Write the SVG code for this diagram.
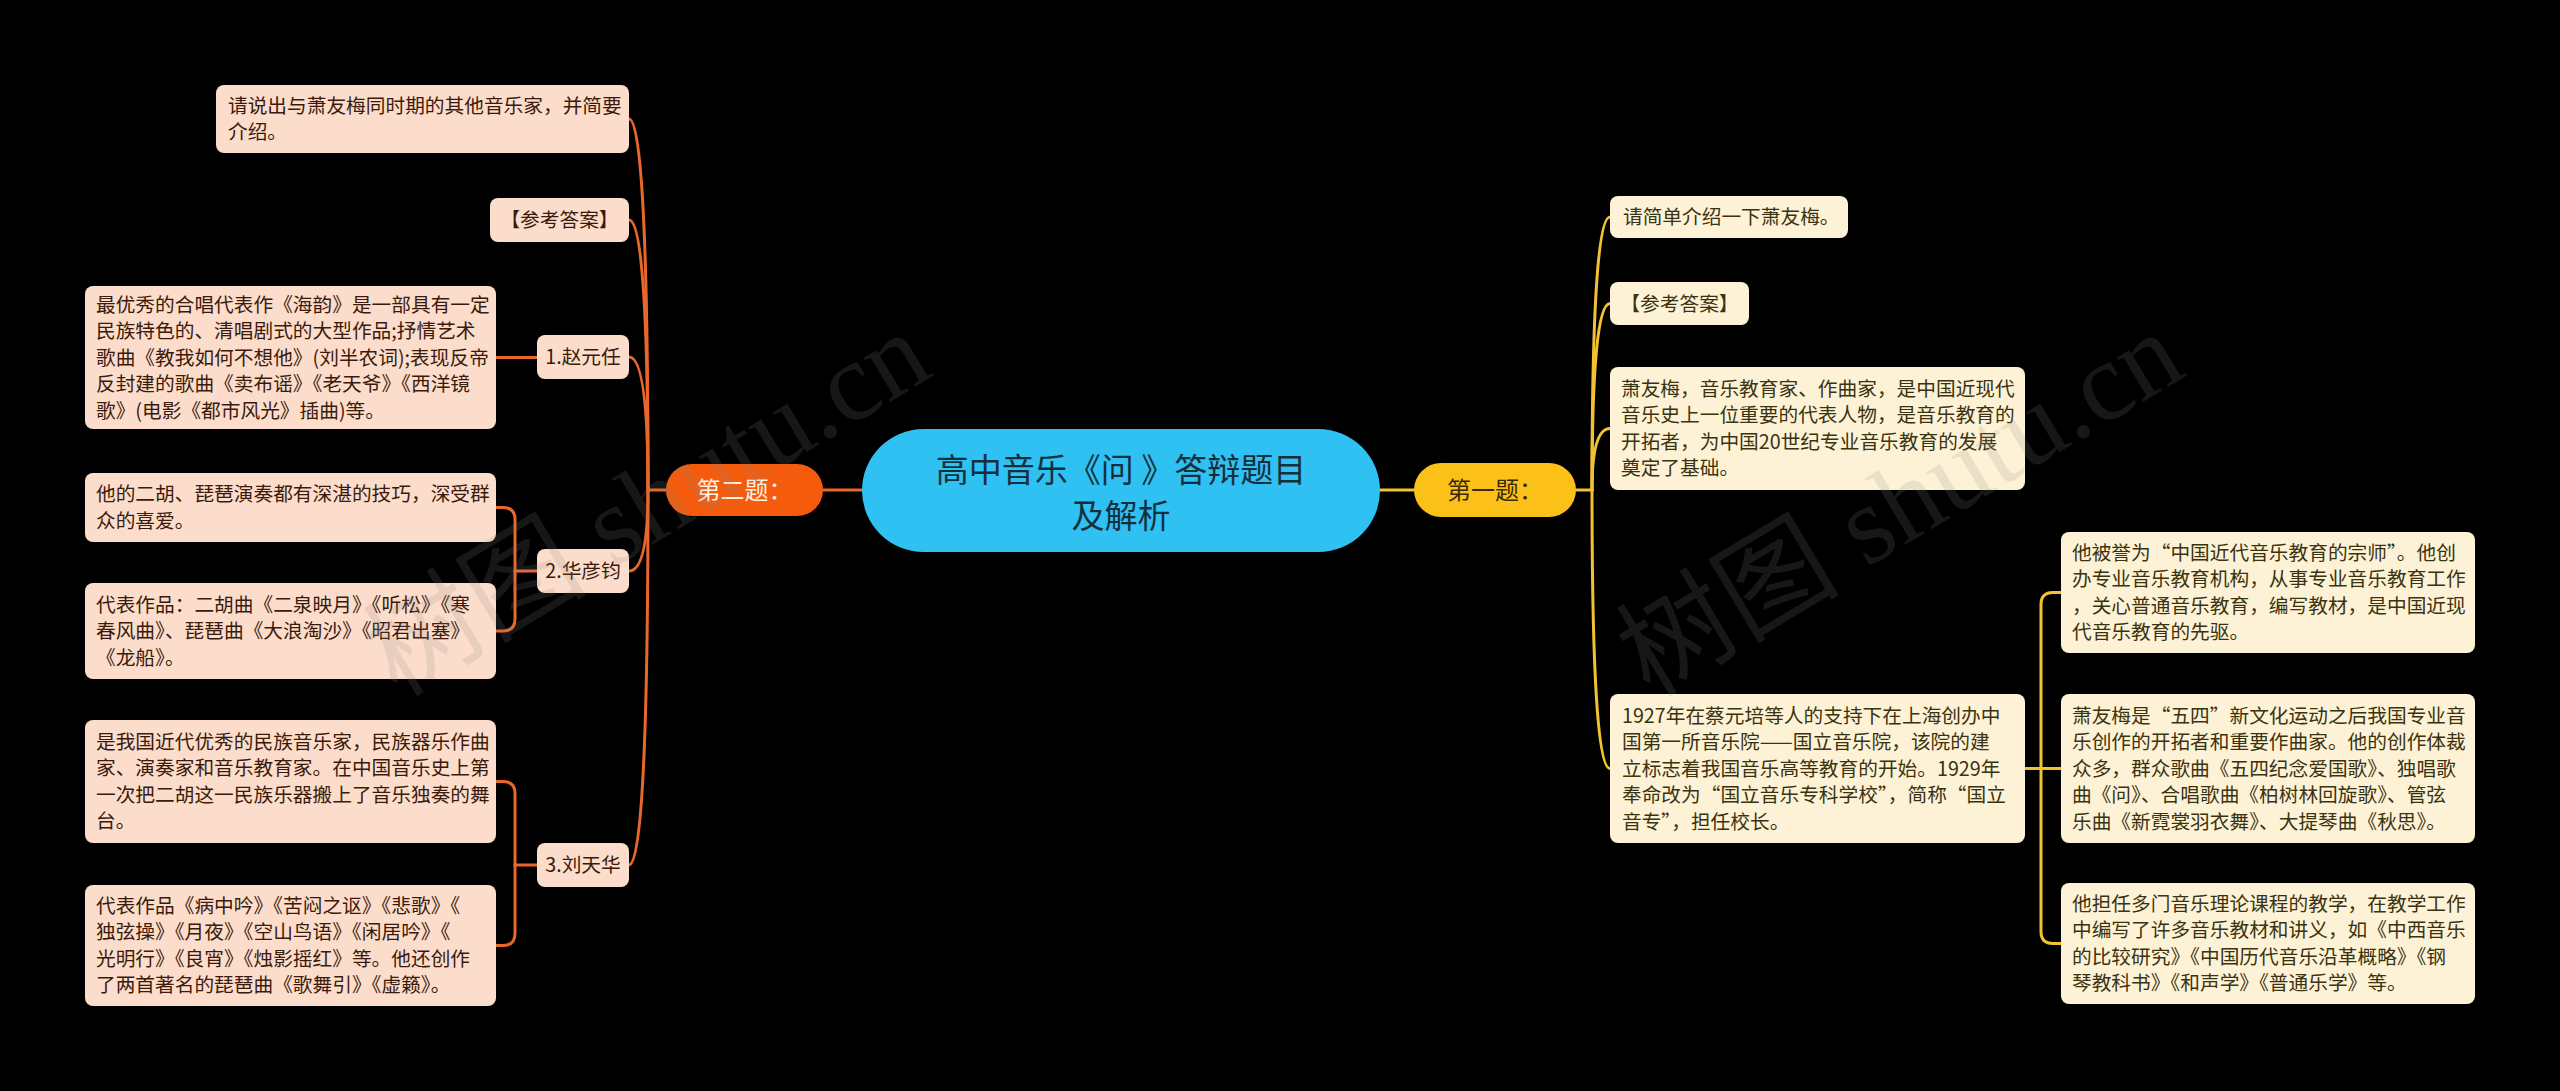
<svg xmlns="http://www.w3.org/2000/svg" width="2560" height="1091" viewBox="0 0 2560 1091">
<style>
text{font-family:"Noto Sans CJK SC","Noto Sans",sans-serif;}
.bg{fill:#000000;}
.lbox{fill:#FCDDCB;}
.rbox{fill:#FEF2D6;}
.lt{fill:#3B1A0C;font-size:19.7px;}
.rt{fill:#3A3310;font-size:19.7px;}
.lline{fill:none;stroke:#E8672B;stroke-width:3;stroke-linecap:round;}
.rline{fill:none;stroke:#F2C232;stroke-width:3;stroke-linecap:round;}
.wm{font-family:"Liberation Serif","Noto Sans CJK SC",serif;font-size:112px;fill:#8a8a8a;fill-opacity:0.17;}
</style>
<rect class="bg" x="0" y="0" width="2560" height="1091"/>

<g id="connectors">
  <path class="lline" d="M862 490 H823"/>
  <path class="rline" d="M1380 490 H1414"/>
  <path class="lline" d="M666 490 H648"/>
  <path class="lline" d="M648 490 Q648 119 629 119"/>
  <path class="lline" d="M648 490 Q648 220 629 220"/>
  <path class="lline" d="M648 490 Q648 357 629 357"/>
  <path class="lline" d="M648 490 Q648 571 629 571"/>
  <path class="lline" d="M648 490 Q648 865 629 865"/>
  <path class="lline" d="M537 357.5 H496"/>
  <path class="lline" d="M537 571 H515"/>
  <path class="lline" d="M515 571 V519.5 Q515 507.5 503 507.5 H496"/>
  <path class="lline" d="M515 571 V619 Q515 631 503 631 H496"/>
  <path class="lline" d="M537 865 H515"/>
  <path class="lline" d="M515 865 V793.5 Q515 781.5 503 781.5 H496"/>
  <path class="lline" d="M515 865 V933.5 Q515 945.5 503 945.5 H496"/>
  <path class="rline" d="M1576 490 H1592"/>
  <path class="rline" d="M1592 490 Q1592 217 1610 217"/>
  <path class="rline" d="M1592 490 Q1592 303.5 1610 303.5"/>
  <path class="rline" d="M1592 490 Q1592 428.5 1610 428.5"/>
  <path class="rline" d="M1592 490 Q1592 768.5 1610 768.5"/>
  <path class="rline" d="M2025 768.5 H2061"/>
  <path class="rline" d="M2041 768.5 V604.5 Q2041 592.5 2053 592.5 H2061"/>
  <path class="rline" d="M2041 768.5 V931.5 Q2041 943.5 2053 943.5 H2061"/>
</g>

<g id="center">
  <rect x="862" y="429" width="518" height="123" rx="61.5" fill="#2FC1F1"/>
  <text x="1121" y="482" font-size="33" fill="#15303D" text-anchor="middle">高中音乐《问 》答辩题目</text>
  <text x="1121" y="528" font-size="33" fill="#15303D" text-anchor="middle">及解析</text>
</g>

<g id="q2">
  <rect x="666" y="464" width="157" height="52" rx="26" fill="#F45B0C"/>
  <text x="744.5" y="498.5" font-size="24" fill="#FFF1E4" text-anchor="middle">第二题：</text>
</g>

<g id="q1">
  <rect x="1414" y="463" width="162" height="54" rx="27" fill="#FCC118"/>
  <text x="1495" y="498.5" font-size="24" fill="#3A2A05" text-anchor="middle">第一题：</text>
</g>

<g id="l-question">
  <rect class="lbox" x="216" y="85" width="413" height="68" rx="8"/>
  <text class="lt" x="228" y="112.8">请说出与萧友梅同时期的其他音乐家，并简要</text>
  <text class="lt" x="228" y="139.3">介绍。</text>
</g>
<g id="l-answer">
  <rect class="lbox" x="490" y="198" width="139" height="44" rx="8"/>
  <text class="lt" x="559.5" y="227" text-anchor="middle">【参考答案】</text>
</g>
<g id="l-zhao">
  <rect class="lbox" x="537" y="335" width="92" height="44" rx="8"/>
  <text class="lt" x="583" y="364" text-anchor="middle">1.赵元任</text>
</g>
<g id="l-zhao-1">
  <rect class="lbox" x="85" y="286" width="411" height="143" rx="8"/>
  <text class="lt" x="96" y="311.5">最优秀的合唱代表作《海韵》是一部具有一定</text>
  <text class="lt" x="96" y="338">民族特色的、清唱剧式的大型作品;抒情艺术</text>
  <text class="lt" x="96" y="364.5">歌曲《教我如何不想他》(刘半农词);表现反帝</text>
  <text class="lt" x="96" y="391">反封建的歌曲《卖布谣》《老天爷》《西洋镜</text>
  <text class="lt" x="96" y="417.5">歌》(电影《都市风光》插曲)等。</text>
</g>
<g id="l-hua">
  <rect class="lbox" x="537" y="549" width="92" height="44" rx="8"/>
  <text class="lt" x="583" y="578" text-anchor="middle">2.华彦钧</text>
</g>
<g id="l-hua-1">
  <rect class="lbox" x="85" y="473" width="411" height="69" rx="8"/>
  <text class="lt" x="96" y="501.3">他的二胡、琵琶演奏都有深湛的技巧，深受群</text>
  <text class="lt" x="96" y="527.8">众的喜爱。</text>
</g>
<g id="l-hua-2">
  <rect class="lbox" x="85" y="583" width="411" height="96" rx="8"/>
  <text class="lt" x="96" y="611.5">代表作品：二胡曲《二泉映月》《听松》《寒</text>
  <text class="lt" x="96" y="638">春风曲》、琵琶曲《大浪淘沙》《昭君出塞》</text>
  <text class="lt" x="96" y="664.5">《龙船》。</text>
</g>
<g id="l-liu">
  <rect class="lbox" x="537" y="843" width="92" height="44" rx="8"/>
  <text class="lt" x="583" y="872" text-anchor="middle">3.刘天华</text>
</g>
<g id="l-liu-1">
  <rect class="lbox" x="85" y="720" width="411" height="123" rx="8"/>
  <text class="lt" x="96" y="748.8">是我国近代优秀的民族音乐家，民族器乐作曲</text>
  <text class="lt" x="96" y="775.3">家、演奏家和音乐教育家。在中国音乐史上第</text>
  <text class="lt" x="96" y="801.8">一次把二胡这一民族乐器搬上了音乐独奏的舞</text>
  <text class="lt" x="96" y="828.3">台。</text>
</g>
<g id="l-liu-2">
  <rect class="lbox" x="85" y="885" width="411" height="121" rx="8"/>
  <text class="lt" x="96" y="912.8">代表作品《病中吟》《苦闷之讴》《悲歌》《</text>
  <text class="lt" x="96" y="939.3">独弦操》《月夜》《空山鸟语》《闲居吟》《</text>
  <text class="lt" x="96" y="965.8">光明行》《良宵》《烛影摇红》等。他还创作</text>
  <text class="lt" x="96" y="992.3">了两首著名的琵琶曲《歌舞引》《虚籁》。</text>
</g>

<g id="r-question">
  <rect class="rbox" x="1610" y="196" width="238" height="42" rx="8"/>
  <text class="rt" x="1623" y="224">请简单介绍一下萧友梅。</text>
</g>
<g id="r-answer">
  <rect class="rbox" x="1610" y="282" width="139" height="43" rx="8"/>
  <text class="rt" x="1679.5" y="310.5" text-anchor="middle">【参考答案】</text>
</g>
<g id="r-intro">
  <rect class="rbox" x="1610" y="367" width="415" height="123" rx="8"/>
  <text class="rt" x="1621" y="395.8">萧友梅，音乐教育家、作曲家，是中国近现代</text>
  <text class="rt" x="1621" y="422.3">音乐史上一位重要的代表人物，是音乐教育的</text>
  <text class="rt" x="1621" y="448.8">开拓者，为中国20世纪专业音乐教育的发展</text>
  <text class="rt" x="1621" y="475.3">奠定了基础。</text>
</g>
<g id="r-1927">
  <rect class="rbox" x="1610" y="694" width="415" height="149" rx="8"/>
  <text class="rt" x="1622" y="722.5">1927年在蔡元培等人的支持下在上海创办中</text>
  <text class="rt" x="1622" y="749">国第一所音乐院——国立音乐院，该院的建</text>
  <text class="rt" x="1622" y="775.5">立标志着我国音乐高等教育的开始。1929年</text>
  <text class="rt" x="1622" y="802">奉命改为“国立音乐专科学校”，简称“国立</text>
  <text class="rt" x="1622" y="828.5">音专”，担任校长。</text>
</g>
<g id="r-mentor">
  <rect class="rbox" x="2061" y="532" width="414" height="121" rx="8"/>
  <text class="rt" x="2072" y="559.8">他被誉为“中国近代音乐教育的宗师”。他创</text>
  <text class="rt" x="2072" y="586.3">办专业音乐教育机构，从事专业音乐教育工作</text>
  <text class="rt" x="2072" y="612.8">，关心普通音乐教育，编写教材，是中国近现</text>
  <text class="rt" x="2072" y="639.3">代音乐教育的先驱。</text>
</g>
<g id="r-composer">
  <rect class="rbox" x="2061" y="694" width="414" height="149" rx="8"/>
  <text class="rt" x="2072" y="722.5">萧友梅是“五四”新文化运动之后我国专业音</text>
  <text class="rt" x="2072" y="749">乐创作的开拓者和重要作曲家。他的创作体裁</text>
  <text class="rt" x="2072" y="775.5">众多，群众歌曲《五四纪念爱国歌》、独唱歌</text>
  <text class="rt" x="2072" y="802">曲《问》、合唱歌曲《柏树林回旋歌》、管弦</text>
  <text class="rt" x="2072" y="828.5">乐曲《新霓裳羽衣舞》、大提琴曲《秋思》。</text>
</g>
<g id="r-teacher">
  <rect class="rbox" x="2061" y="883" width="414" height="121" rx="8"/>
  <text class="rt" x="2072" y="910.8">他担任多门音乐理论课程的教学，在教学工作</text>
  <text class="rt" x="2072" y="937.3">中编写了许多音乐教材和讲义，如《中西音乐</text>
  <text class="rt" x="2072" y="963.8">的比较研究》《中国历代音乐沿革概略》《钢</text>
  <text class="rt" x="2072" y="990.3">琴教科书》《和声学》《普通乐学》等。</text>
</g>

<g id="watermarks">
  <text class="wm" x="653" y="540" text-anchor="middle" transform="rotate(-31 653 514)">树图 shutu.cn</text>
  <text class="wm" x="1906" y="540" text-anchor="middle" transform="rotate(-31 1906 514)">树图 shutu.cn</text>
</g>
</svg>
